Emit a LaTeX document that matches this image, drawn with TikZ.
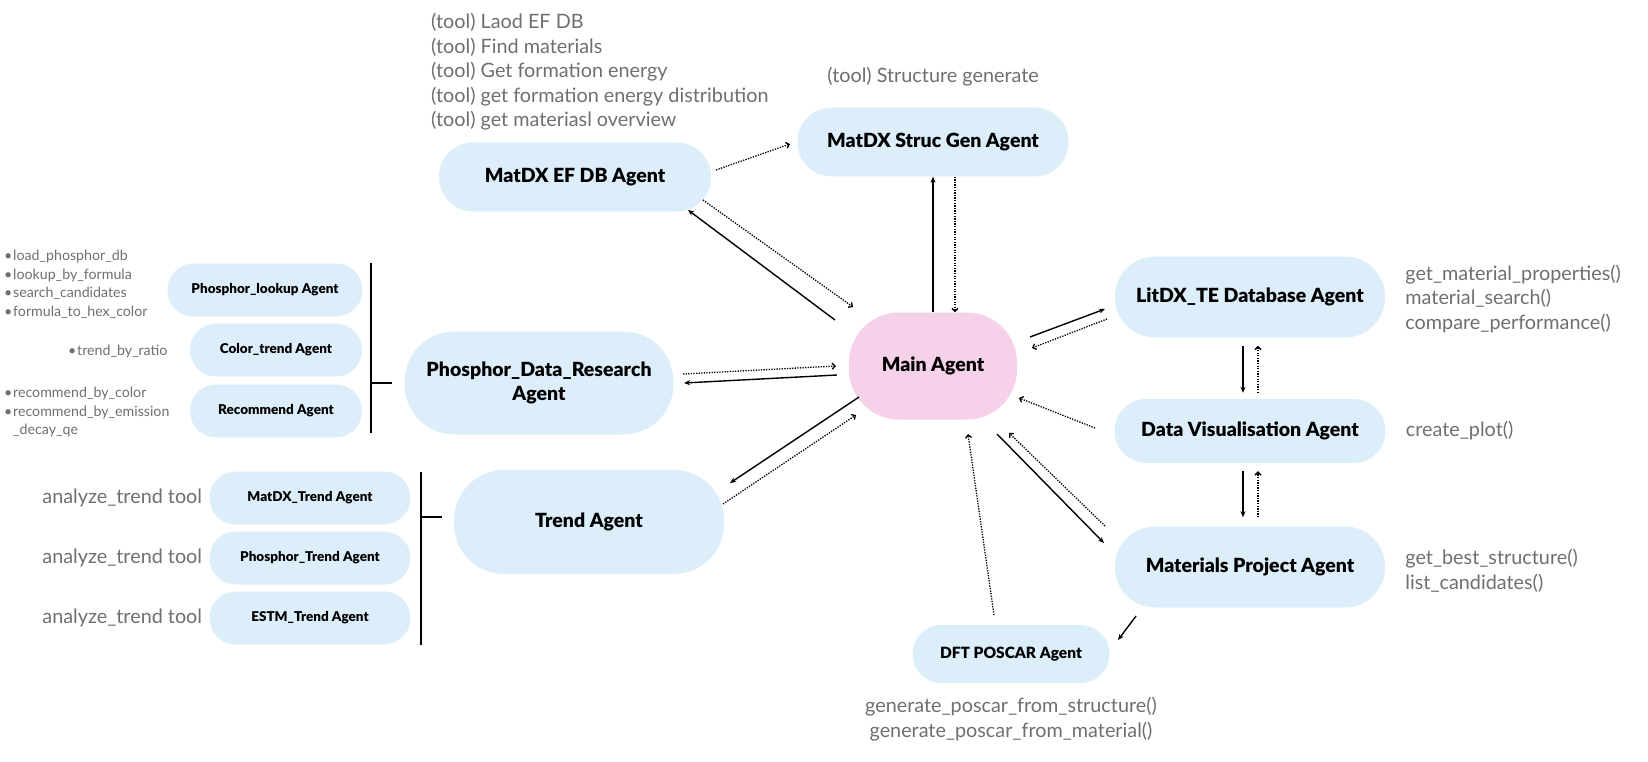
\documentclass[tikz,border=0pt]{standalone}
\usepackage{fontspec}
\setmainfont{Lato}[BoldFont={Lato Black}]
\usetikzlibrary{positioning, arrows.meta}
\definecolor{AgentBlue}{HTML}{DDEEFB}
\definecolor{MainPink}{HTML}{F6D1EA}
\definecolor{ToolGray}{HTML}{6E6E73}
\newcommand{\itm}{\makebox[9pt][l]{\textbullet}}

\begin{document}
\begin{tikzpicture}[
  x=1pt, y=-1pt,
  agent/.style={fill=AgentBlue, rounded corners=#1, inner sep=0pt, align=center,
    font=\fontsize{19.5}{24.5}\selectfont\bfseries},
  agent/.default=34pt,
  subagent/.style={agent=26pt, minimum height=53pt, font=\fontsize{13.5}{16}\selectfont\bfseries},
  tool/.style={text=ToolGray, inner sep=0pt, align=left, font=\fontsize{19.8}{24.5}\selectfont},
  bul/.style={text=ToolGray, inner sep=0pt, align=left, font=\fontsize{14.2}{18.5}\selectfont},
  request/.style={line width=1.4pt, -{Stealth[length=6pt, width=5pt]}},
  reply/.style={line width=1.3pt, dash pattern=on 1.3pt off 1.3pt,
    -{Straight Barb[length=3pt, width=6pt]}},
  brk/.style={line width=1.4pt},
  >=Stealth
]
\useasboundingbox (0,0) rectangle (1648,762);

% Main agent and the agents round it
\node[agent=50pt, fill=MainPink, minimum width=168pt, minimum height=107pt] (main) at (933,366) {Main Agent};
\node[agent, minimum width=272pt, minimum height=69pt] (efdb) at (575,177) {MatDX EF DB Agent};
\node[agent, minimum width=271pt, minimum height=69pt] (strucgen) at (933,142) {MatDX Struc Gen Agent};
\node[agent=40pt, minimum width=270pt, minimum height=81pt] (litdx) at (1250,297) {LitDX\_TE Database Agent};
\node[agent=32pt, minimum width=271pt, minimum height=64pt] (datavis) at (1250,431) {Data Visualisation Agent};
\node[agent=40pt, minimum width=270pt, minimum height=81pt] (mp) at (1250,567) {Materials Project Agent};
\node[agent=29pt, minimum width=197pt, minimum height=58pt, font=\fontsize{15.5}{19}\selectfont\bfseries] (dft) at (1011,654) {DFT POSCAR Agent};
\node[agent=50pt, minimum width=269pt, minimum height=103pt] (phos) at (539,383) {Phosphor\_Data\_Research\\Agent};
\node[agent=50pt, minimum width=270pt, minimum height=104pt] (trend) at (589,522) {Trend Agent};

% Phosphor sub-agents
\node[subagent, minimum width=195pt] (lookup) at (265,290) {Phosphor\_lookup Agent};
\node[subagent, minimum width=172pt] (colortrend) at (276,350) {Color\_trend Agent};
\node[subagent, minimum width=172pt] (recommend) at (276,411) {Recommend Agent};
\draw[brk] (371,263) -- (371,433);
\draw[brk] (371,383) -- ([xshift=-12pt]phos.west);

% Trend sub-agents
\node[subagent, minimum width=201pt] (mtrend) at (310,498) {MatDX\_Trend Agent};
\node[subagent, minimum width=201pt] (ptrend) at (310,558) {Phosphor\_Trend Agent};
\node[subagent, minimum width=201pt] (etrend) at (310,618) {ESTM\_Trend Agent};
\draw[brk] (421,472) -- (421,645);
\draw[brk] (421,517) -- (442,517);

% Tools
\node[tool, anchor=west] (eftools) at (431,72) {(tool) Laod EF DB\\(tool) Find materials\\(tool) Get formation energy\\(tool) get formation energy distribution\\(tool) get materiasl overview};
\node[tool, above=21pt of strucgen] (sgtool) {(tool) Structure generate};
\node[tool, right=20pt of litdx, yshift=-2pt] (littools) {get\_material\_properties()\\material\_search()\\compare\_performance()};
\node[tool, right=20pt of datavis] (vistools) {create\_plot()};
\node[tool, right=20pt of mp, yshift=-4pt] (mptools) {get\_best\_structure()\\list\_candidates()};
\node[tool, align=center, below=14pt of dft] (dfttools) {generate\_poscar\_from\_structure()\\generate\_poscar\_from\_material()};
\node[tool, left=7pt of mtrend] (mtool) {analyze\_trend tool};
\node[tool, left=7pt of ptrend] (ptool) {analyze\_trend tool};
\node[tool, left=7pt of etrend] (etool) {analyze\_trend tool};
\node[bul, anchor=west] (lookuptools) at (4,284.5) {\itm load\_phosphor\_db\\\itm lookup\_by\_formula\\\itm search\_candidates\\\itm formula\_to\_hex\_color};
\node[bul, anchor=west] (colortools) at (68,351) {\itm trend\_by\_ratio};
\node[bul, anchor=west] (rectools) at (4,412) {\itm recommend\_by\_color\\\itm recommend\_by\_emission\\\hspace*{9pt}\_decay\_qe};

% Main <-> MatDX agents
\draw[request] ([shift={(-98,-46)}]main.center) -- ([shift={(113,33)}]efdb.center);
\draw[reply] ([shift={(128,23)}]efdb.center) -- ([shift={(-80,-59)}]main.center);
\draw[reply] ([shift={(141,-7)}]efdb.center) -- ([shift={(-143,2)}]strucgen.center);
\draw[request] (main.north) -- (strucgen.south);
\draw[reply] ([xshift=22pt]strucgen.south) -- ([xshift=22pt]main.north);

% Main <-> right column
\draw[request] ([shift={(97,-29)}]main.center) -- ([shift={(-145,12)}]litdx.center);
\draw[reply] ([shift={(-143,22)}]litdx.center) -- ([shift={(99,-18)}]main.center);
\draw[reply] ([shift={(-155,-3)}]datavis.center) -- ([shift={(86,32)}]main.center);
\draw[request] ([shift={(64,68)}]main.center) -- ([shift={(-146,-24)}]mp.center);
\draw[reply] ([shift={(-145,-41)}]mp.center) -- ([shift={(76,67)}]main.center);
\draw[request, shorten <=8pt, shorten >=6pt] ([xshift=-7pt]litdx.south) -- ([xshift=-7pt]datavis.north);
\draw[reply, shorten <=6pt, shorten >=8pt] ([xshift=8pt]datavis.north) -- ([xshift=8pt]litdx.south);
\draw[request, shorten <=8pt, shorten >=9pt] ([xshift=-7pt]datavis.south) -- ([xshift=-7pt]mp.north);
\draw[reply, shorten <=9pt, shorten >=8pt] ([xshift=8pt]mp.north) -- ([xshift=8pt]datavis.south);
\draw[request] ([shift={(-114,49)}]mp.center) -- ([shift={(107,-14)}]dft.center);
\draw[reply] ([shift={(-17,-39)}]dft.center) -- ([shift={(35,68)}]main.center);

% Main <-> Phosphor / Trend
\draw[request] ([shift={(-96,9)}]main.center) -- ([shift={(145,0)}]phos.center);
\draw[reply] ([shift={(144,-9)}]phos.center) -- ([shift={(-97,0)}]main.center);
\draw[request] ([shift={(-74,31)}]main.center) -- ([shift={(141,-39)}]trend.center);
\draw[reply] ([shift={(134,-18)}]trend.center) -- ([shift={(-77,49)}]main.center);

\end{tikzpicture}
\end{document}
